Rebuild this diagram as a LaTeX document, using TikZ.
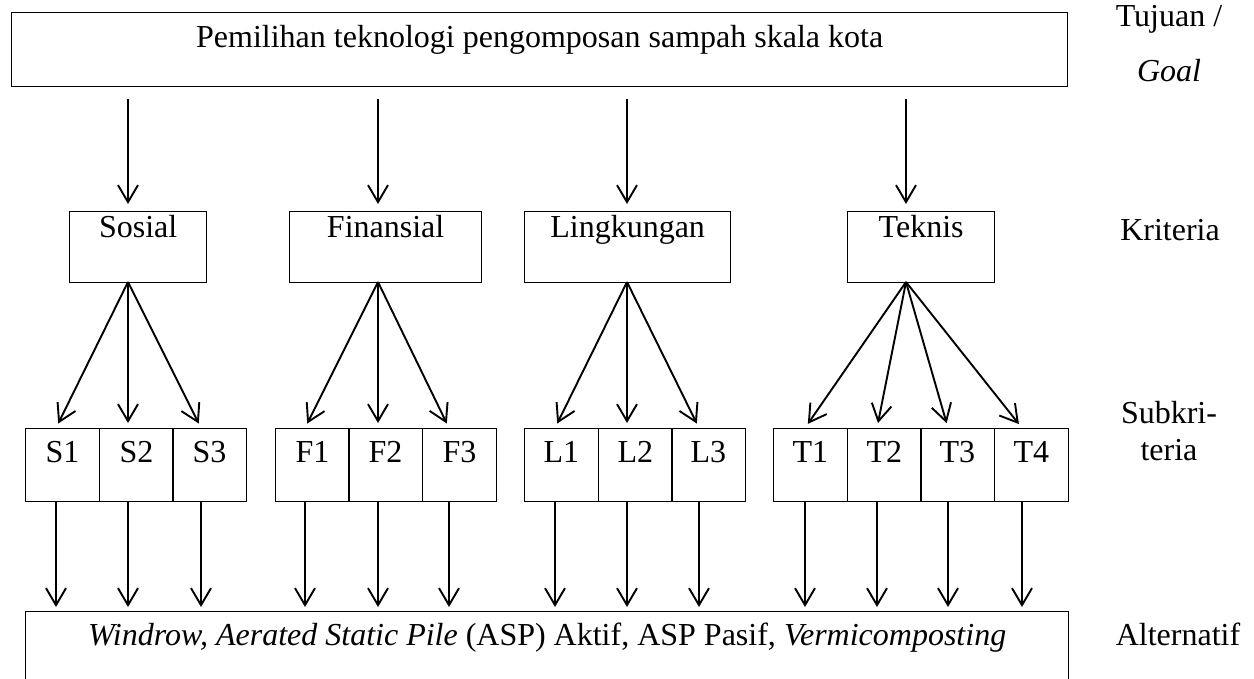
\documentclass[tikz,border=0pt]{standalone}
\usepackage{fontspec}
\setmainfont{Liberation Serif}
\usetikzlibrary{arrows.meta}

\tikzset{
    box/.style={draw, line width=1.3pt, inner sep=0pt, anchor=north west},
    crit/.style={box, minimum width=#1, text height=26pt, text depth=45pt},
    sub/.style={box, minimum width=73.5pt, text height=34pt, text depth=39pt},
    arr/.style={line width=1.9pt, -{Straight Barb[length=17pt, width=20pt, line width=1.9pt]}},
    side/.style={anchor=base, inner sep=0pt, align=center}
}

\begin{document}
\begin{tikzpicture}[x=1pt, y=-1pt, font=\fontsize{32}{37}\selectfont]
    \useasboundingbox (0,0) rectangle (1254,679);
    \clip (0,0) rectangle (1254,679);

    % Goal
    \node[box, minimum width=1056pt, text height=35pt, text depth=39pt] (goal) at (11,12)
        {Pemilihan teknologi pengomposan sampah skala kota};

    % Criteria
    \node[crit=137pt] (sos) at (69,211) {Sosial};
    \node[crit=192pt] (fin) at (289,211) {Finansial};
    \node[crit=206pt] (lin) at (524,211) {Lingkungan};
    \node[crit=147pt] (tek) at (847,211) {Teknis};

    % fan origins below the criteria
    \coordinate (oS) at (128,282);
    \coordinate (oF) at (378,282);
    \coordinate (oL) at (627,282);
    \coordinate (oT) at (906,282);

    \foreach \c/\o in {sos/oS, fin/oF, lin/oL, tek/oT}
        \draw[arr, shorten <=12pt, shorten >=7pt] (goal.south -| \o) -- (\c.north -| \o);

    % Alternatives
    \node[box, minimum width=1043pt, text height=34pt, text depth=90pt] (alt) at (25,611)
        {\textit{Windrow, Aerated Static Pile} (ASP) Aktif, ASP Pasif, \textit{Vermicomposting}};

    % Subcriteria
    \foreach \n/\x/\xa/\o in {S1/25/56/oS, S2/99/128/oS, S3/172/201/oS,
                              F1/275/305/oF, F2/348/378/oF, F3/422/449/oF,
                              L1/524/555/oL, L2/598/627/oL, L3/671/699/oL,
                              T1/773/805/oT, T2/847/877/oT, T3/920/948/oT, T4/994/1022/oT}{
        \node[sub] (\n) at (\x,428) {\n};
        \coordinate (a\n) at (\xa,0);
        \draw[arr, shorten >=5pt] (\o) -- (\n.north -| a\n);
        \draw[arr, shorten >=4pt] (\n.south -| a\n) -- (alt.north -| a\n);
    }

    % Level labels (base = last line)
    \node[side] (lgoal) at (1169,82) {Tujuan /\\[18pt]\textit{Goal}};
    \node[side] (lcrit) at (1170,241) {Kriteria};
    \node[side] (lsub) at (1169,460) {Subkri-\\teria};
    \node[side] (lalt) at (1178,645) {Alternatif};
\end{tikzpicture}
\end{document}
